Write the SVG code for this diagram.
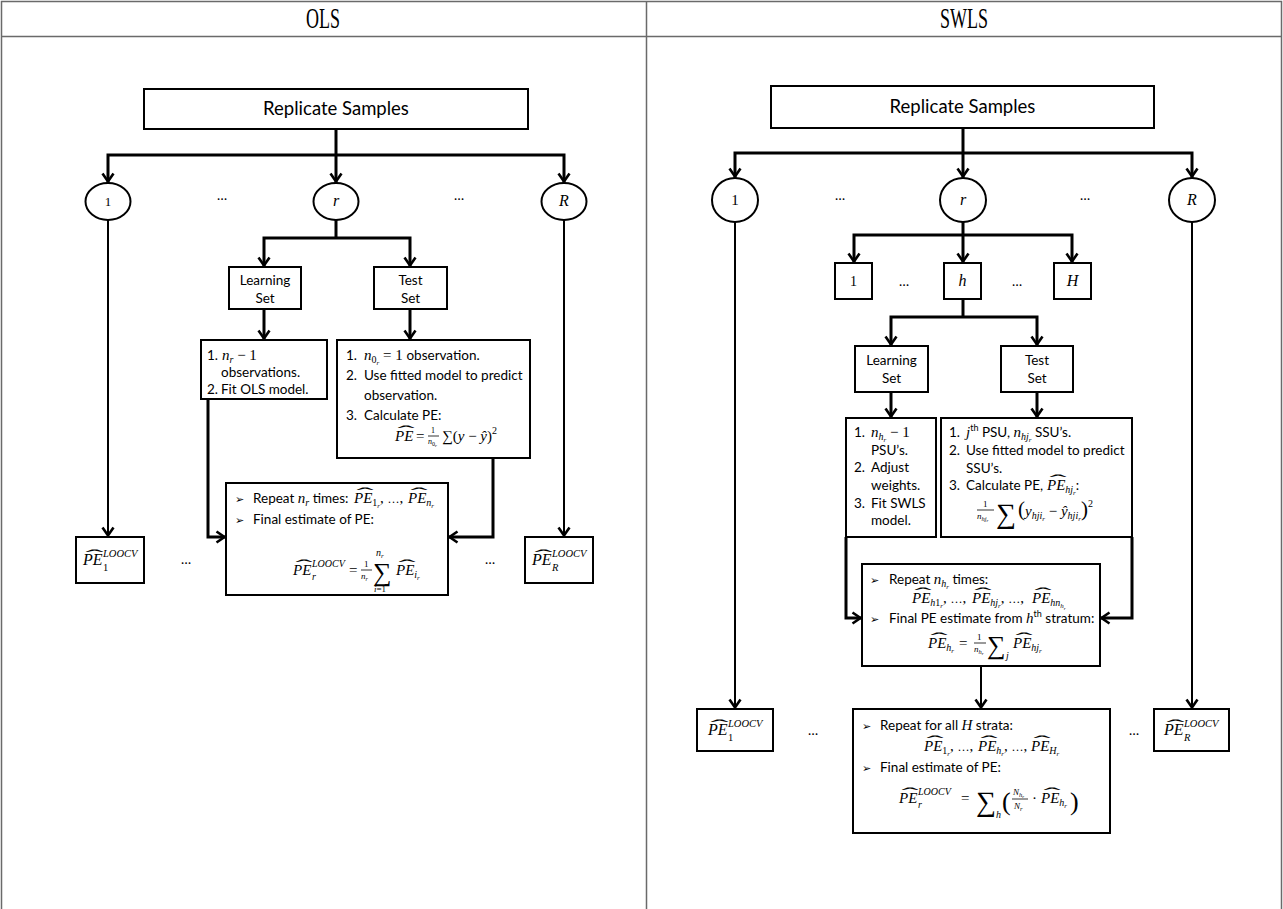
<svg xmlns="http://www.w3.org/2000/svg" width="1283" height="909" viewBox="0 0 1283 909">
<defs>
<marker id="arr" markerUnits="userSpaceOnUse" viewBox="-10 -7 13 14" refX="1.5" refY="0" markerWidth="13" markerHeight="14" orient="auto-start-reverse" overflow="visible">
<path d="M-8,-5.5 L0,0 L-8,5.5" fill="none" stroke="#000" stroke-width="2.6"/>
</marker>
</defs>
<style>
.grid{stroke:#6a6a6a;stroke-width:1.5;fill:none}
.box{fill:#fff;stroke:#000;stroke-width:2}
.conn{fill:none;stroke:#000;stroke-width:3}
.thin{stroke-width:2}
.frac{stroke:#000;stroke-width:0.8}
.hd{font-family:"Liberation Serif",serif;font-size:30px}
.lb{font-family:Lato,"Liberation Sans",sans-serif;font-size:18.5px}
.t{font-family:Lato,"Liberation Sans",sans-serif;font-size:13.5px}
.i{font-family:"Liberation Serif",serif;font-style:italic}
.u{font-family:"Liberation Serif",serif;font-style:normal}
.bl{font-family:"DejaVu Sans",sans-serif;font-size:11px}
.hat{font-family:"Liberation Serif",serif;font-size:16px}
.mid{text-anchor:middle}
</style>
<rect width="1283" height="909" fill="#fff"/>

<!-- table frame and column titles -->
<g id="table">
<path class="grid" d="M1.5,909 V1.5 H1281.5 V909 M1.5,36.5 H1281.5 M646.5,1.5 V909"/>
<text class="hd mid" x="323" y="28" textLength="34" lengthAdjust="spacingAndGlyphs">OLS</text>
<text class="hd mid" x="964" y="28" textLength="48" lengthAdjust="spacingAndGlyphs">SWLS</text>
</g>

<!-- ===================== OLS column ===================== -->
<g id="ols-connectors" class="conn">
<path d="M336,129 V183" marker-end="url(#arr)"/>
<path d="M108,183 V155 H564 V183" marker-start="url(#arr)" marker-end="url(#arr)"/>
<path d="M336,220 V238"/>
<path d="M264,267 V238 H410 V267" marker-start="url(#arr)" marker-end="url(#arr)"/>
<path d="M264,309 V340" marker-end="url(#arr)"/>
<path d="M410,309 V340" marker-end="url(#arr)"/>
<path d="M208,399 V537 H226" marker-end="url(#arr)"/>
<path d="M493,458 V537 H448" marker-end="url(#arr)"/>
<path class="thin" d="M108,220 V537" marker-end="url(#arr)"/>
<path class="thin" d="M564,220 V537" marker-end="url(#arr)"/>
</g>

<g id="ols-replicates">
<rect class="box" x="144" y="89" width="384" height="40"/>
<text class="lb mid" x="336" y="115">Replicate Samples</text>
</g>

<g id="ols-rep-1">
<ellipse class="box" cx="108" cy="201.5" rx="22.5" ry="18.5"/>
<text class="u mid" font-size="13" x="108" y="206">1</text>
</g>
<g id="ols-rep-r">
<ellipse class="box" cx="336" cy="201.5" rx="22.5" ry="18.5"/>
<text class="i mid" font-size="16" x="336" y="206">r</text>
</g>
<g id="ols-rep-R">
<ellipse class="box" cx="564" cy="201.5" rx="22.5" ry="18.5"/>
<text class="i mid" font-size="16" x="564" y="206">R</text>
</g>
<text class="t mid" x="222" y="200">…</text>
<text class="t mid" x="459" y="200">…</text>

<g id="ols-learning">
<rect class="box" x="229" y="267" width="72" height="42"/>
<text class="t mid" x="265" y="285">Learning</text>
<text class="t mid" x="265" y="303">Set</text>
</g>
<g id="ols-test">
<rect class="box" x="374" y="267" width="73" height="42"/>
<text class="t mid" x="410.5" y="285">Test</text>
<text class="t mid" x="410.5" y="303">Set</text>
</g>

<g id="ols-learning-steps">
<rect class="box" x="201" y="340" width="126" height="59"/>
<text class="t" x="207" y="360">1.</text>
<text class="t" y="360"><tspan x="222" class="i" font-size="15">n</tspan><tspan class="i" font-size="10" dy="3">r</tspan><tspan class="u" font-size="15" dy="-3"> − 1</tspan></text>
<text class="t" x="221" y="377">observations.</text>
<text class="t" x="207" y="394">2.</text>
<text class="t" x="221" y="394">Fit OLS model.</text>
</g>

<g id="ols-test-steps">
<rect class="box" x="337" y="340" width="193" height="118"/>
<text class="t" x="346" y="360">1.</text>
<text class="t" y="360"><tspan x="364" class="i" font-size="15">n</tspan><tspan class="u" font-size="10" dy="3">0</tspan><tspan class="i" font-size="7" dy="2">r</tspan><tspan class="u" font-size="15" dy="-5"> = 1 </tspan><tspan>observation.</tspan></text>
<text class="t" x="346" y="380">2.</text>
<text class="t" x="364" y="380">Use fitted model to predict</text>
<text class="t" x="364" y="400">observation.</text>
<text class="t" x="346" y="420">3.</text>
<text class="t" x="364" y="420">Calculate PE:</text>
<text class="i" font-size="15" x="395" y="441">PE</text>
<text class="hat" x="397.5" y="437" textLength="17" lengthAdjust="spacingAndGlyphs">ˆ</text>
<text class="u" font-size="15" x="416" y="441">=</text>
<text class="u" font-size="8" x="431" y="433">1</text>
<line class="frac" x1="428" y1="436" x2="439" y2="436"/>
<text class="t" y="444"><tspan x="428" class="i" font-size="8">n</tspan><tspan class="u" font-size="6" dy="1.5">0</tspan><tspan class="i" font-size="5" dy="1.5">r</tspan></text>
<text class="t" y="441"><tspan x="442" class="u" font-size="15">∑(</tspan><tspan class="i" font-size="15">y</tspan><tspan class="u" font-size="15"> − </tspan><tspan class="i" font-size="15">ŷ</tspan><tspan class="u" font-size="15">)</tspan><tspan class="u" font-size="10" dy="-7">2</tspan></text>
</g>

<g id="ols-pe-r">
<rect class="box" x="226" y="483" width="222" height="112"/>
<text class="bl" x="235" y="503">➢</text>
<text class="t" y="503"><tspan x="253">Repeat </tspan><tspan class="i" font-size="15">n</tspan><tspan class="i" font-size="10" dy="3">r</tspan><tspan dy="-3"> times:</tspan></text>
<text class="t" y="503"><tspan x="354" class="i" font-size="15">PE</tspan><tspan class="u" font-size="10" dy="3">1</tspan><tspan class="i" font-size="7" dy="2">r</tspan><tspan class="u" font-size="15" dy="-5">, </tspan><tspan class="u" font-size="12">…</tspan><tspan class="u" font-size="15">,</tspan></text>
<text class="hat" x="356.5" y="499" textLength="17" lengthAdjust="spacingAndGlyphs">ˆ</text>
<text class="t" y="503"><tspan x="408" class="i" font-size="15">PE</tspan><tspan class="i" font-size="10" dy="3">n</tspan><tspan class="i" font-size="7" dy="2">r</tspan></text>
<text class="hat" x="410.5" y="499" textLength="17" lengthAdjust="spacingAndGlyphs">ˆ</text>
<text class="bl" x="235" y="524">➢</text>
<text class="t" x="253" y="524">Final estimate of PE:</text>
<text class="i" font-size="15" x="293" y="575">PE</text>
<text class="hat" x="295.5" y="571" textLength="17" lengthAdjust="spacingAndGlyphs">ˆ</text>
<text class="i" font-size="10" x="312" y="567">LOOCV</text>
<text class="i" font-size="10" x="312" y="580">r</text>
<text class="u" font-size="15" x="349" y="575">=</text>
<text class="u" font-size="9" x="364" y="567">1</text>
<line class="frac" x1="361" y1="570" x2="372" y2="570"/>
<text class="t" y="579"><tspan x="361" class="i" font-size="9">n</tspan><tspan class="i" font-size="6" dy="1.5">r</tspan></text>
<text class="i" font-size="10" x="376" y="556"><tspan>n</tspan><tspan font-size="7" dy="1.5">r</tspan></text>
<text class="u" font-size="26" x="373" y="581">∑</text>
<text class="t" y="592"><tspan x="374" class="i" font-size="9">i</tspan><tspan class="u" font-size="9">=1</tspan></text>
<text class="t" y="575"><tspan x="396" class="i" font-size="15">PE</tspan><tspan class="i" font-size="10" dy="3">i</tspan><tspan class="i" font-size="7" dy="2">r</tspan></text>
<text class="hat" x="398.5" y="571" textLength="17" lengthAdjust="spacingAndGlyphs">ˆ</text>
</g>

<g id="ols-pe-1">
<rect class="box" x="76" y="537" width="68" height="46"/>
<text class="i" font-size="16" x="83" y="565">PE</text>
<text class="hat" x="85.5" y="561" textLength="18" lengthAdjust="spacingAndGlyphs">ˆ</text>
<text class="i" font-size="10.5" x="103" y="557">LOOCV</text>
<text class="u" font-size="10.5" x="103" y="571">1</text>
</g>
<g id="ols-pe-R">
<rect class="box" x="525" y="537" width="68" height="46"/>
<text class="i" font-size="16" x="532" y="565">PE</text>
<text class="hat" x="534.5" y="561" textLength="18" lengthAdjust="spacingAndGlyphs">ˆ</text>
<text class="i" font-size="10.5" x="552" y="557">LOOCV</text>
<text class="i" font-size="10.5" x="552" y="571">R</text>
</g>
<text class="t mid" x="186" y="564">…</text>
<text class="t mid" x="490" y="564">…</text>

<!-- ===================== SWLS column ===================== -->
<g id="swls-connectors" class="conn">
<path d="M963,128 V178" marker-end="url(#arr)"/>
<path d="M735,178 V153 H1192 V178" marker-start="url(#arr)" marker-end="url(#arr)"/>
<path d="M963,222 V263" marker-end="url(#arr)"/>
<path d="M854,263 V235 H1072 V263" marker-start="url(#arr)" marker-end="url(#arr)"/>
<path d="M963,299 V317"/>
<path d="M891,346 V317 H1037 V346" marker-start="url(#arr)" marker-end="url(#arr)"/>
<path d="M891,392 V418" marker-end="url(#arr)"/>
<path d="M1037,392 V418" marker-end="url(#arr)"/>
<path d="M846,537 V618 H862" marker-end="url(#arr)"/>
<path d="M1132,537 V618 H1100" marker-end="url(#arr)"/>
<path class="thin" d="M981,666 V709" marker-end="url(#arr)"/>
<path class="thin" d="M735,222 V709" marker-end="url(#arr)"/>
<path class="thin" d="M1192,222 V709" marker-end="url(#arr)"/>
</g>

<g id="swls-replicates">
<rect class="box" x="771" y="86" width="383" height="42"/>
<text class="lb mid" x="962.5" y="113">Replicate Samples</text>
</g>

<g id="swls-rep-1">
<ellipse class="box" cx="735" cy="200" rx="23" ry="22"/>
<text class="u mid" font-size="15" x="735" y="205">1</text>
</g>
<g id="swls-rep-r">
<ellipse class="box" cx="963" cy="200" rx="23" ry="22"/>
<text class="i mid" font-size="16" x="963" y="205">r</text>
</g>
<g id="swls-rep-R">
<ellipse class="box" cx="1192" cy="200" rx="23" ry="22"/>
<text class="i mid" font-size="16" x="1192" y="205">R</text>
</g>
<text class="t mid" x="840" y="200">…</text>
<text class="t mid" x="1085" y="200">…</text>

<g id="swls-stratum-1">
<rect class="box" x="835" y="263" width="37" height="36"/>
<text class="u mid" font-size="14" x="853.5" y="286">1</text>
</g>
<g id="swls-stratum-h">
<rect class="box" x="944" y="263" width="37" height="36"/>
<text class="i mid" font-size="16" x="962.5" y="286">h</text>
</g>
<g id="swls-stratum-H">
<rect class="box" x="1054" y="263" width="37" height="36"/>
<text class="i mid" font-size="16" x="1072.5" y="286">H</text>
</g>
<text class="t mid" x="904" y="286">…</text>
<text class="t mid" x="1017" y="286">…</text>

<g id="swls-learning">
<rect class="box" x="855" y="346" width="73" height="46"/>
<text class="t mid" x="891.5" y="365">Learning</text>
<text class="t mid" x="891.5" y="383">Set</text>
</g>
<g id="swls-test">
<rect class="box" x="1001" y="346" width="72" height="46"/>
<text class="t mid" x="1037" y="365">Test</text>
<text class="t mid" x="1037" y="383">Set</text>
</g>

<g id="swls-learning-steps">
<rect class="box" x="846" y="418" width="90" height="119"/>
<text class="t" x="854" y="437">1.</text>
<text class="t" y="437"><tspan x="871" class="i" font-size="15">n</tspan><tspan class="i" font-size="10" dy="3">h</tspan><tspan class="i" font-size="7" dy="2">r</tspan><tspan class="u" font-size="15" dy="-5"> − 1</tspan></text>
<text class="t" x="871" y="455">PSU’s.</text>
<text class="t" x="854" y="472">2.</text>
<text class="t" x="871" y="472">Adjust</text>
<text class="t" x="871" y="490">weights.</text>
<text class="t" x="854" y="508">3.</text>
<text class="t" x="871" y="508">Fit SWLS</text>
<text class="t" x="871" y="525">model.</text>
</g>

<g id="swls-test-steps">
<rect class="box" x="941" y="418" width="191" height="119"/>
<text class="t" x="949" y="437">1.</text>
<text class="t" y="437"><tspan x="966" class="i" font-size="15">j</tspan><tspan font-size="9" dy="-6">th</tspan><tspan dy="6"> PSU, </tspan><tspan class="i" font-size="15">n</tspan><tspan class="i" font-size="10" dy="3">hj</tspan><tspan class="i" font-size="7" dy="2">r</tspan><tspan dy="-5"> SSU’s.</tspan></text>
<text class="t" x="949" y="455">2.</text>
<text class="t" x="966" y="455">Use fitted model to predict</text>
<text class="t" x="966" y="473">SSU’s.</text>
<text class="t" x="949" y="490">3.</text>
<text class="t" y="490"><tspan x="966">Calculate PE, </tspan><tspan x="1047" class="i" font-size="15">PE</tspan><tspan class="i" font-size="10" dy="3">hj</tspan><tspan class="i" font-size="7" dy="2">r</tspan><tspan dy="-5">:</tspan></text>
<text class="hat" x="1049.5" y="486" textLength="17" lengthAdjust="spacingAndGlyphs">ˆ</text>
<text class="u" font-size="9" x="983" y="507">1</text>
<line class="frac" x1="977" y1="510" x2="994" y2="510"/>
<text class="t" y="519"><tspan x="977" class="i" font-size="9">n</tspan><tspan class="i" font-size="6.5" dy="1.5">hj</tspan><tspan class="i" font-size="5" dy="1.5">r</tspan></text>
<text class="u" font-size="28" x="996" y="523">∑</text>
<text class="t" y="516"><tspan x="1018" class="u" font-size="21">(</tspan><tspan class="i" font-size="15">y</tspan><tspan class="i" font-size="10" dy="3">hji</tspan><tspan class="i" font-size="7" dy="2">r</tspan><tspan class="u" font-size="15" dy="-5"> − </tspan><tspan class="i" font-size="15">ŷ</tspan><tspan class="i" font-size="10" dy="3">hji</tspan><tspan class="i" font-size="7" dy="2">r</tspan><tspan class="u" font-size="21" dy="-5">)</tspan><tspan class="u" font-size="10" dy="-9">2</tspan></text>
</g>

<g id="swls-stratum-pe">
<rect class="box" x="862" y="564" width="238" height="102"/>
<text class="bl" x="870" y="584">➢</text>
<text class="t" y="584"><tspan x="889">Repeat </tspan><tspan class="i" font-size="15">n</tspan><tspan class="i" font-size="10" dy="3">h</tspan><tspan class="i" font-size="7" dy="2">r</tspan><tspan dy="-5"> times:</tspan></text>
<text class="t" y="603"><tspan x="912" class="i" font-size="15">PE</tspan><tspan class="i" font-size="10" dy="3">h</tspan><tspan class="u" font-size="10">1</tspan><tspan class="i" font-size="7" dy="2">r</tspan><tspan class="u" font-size="15" dy="-5">, </tspan><tspan class="u" font-size="12">…</tspan><tspan class="u" font-size="15">,</tspan></text>
<text class="hat" x="914.5" y="599" textLength="17" lengthAdjust="spacingAndGlyphs">ˆ</text>
<text class="t" y="603"><tspan x="972" class="i" font-size="15">PE</tspan><tspan class="i" font-size="10" dy="3">hj</tspan><tspan class="i" font-size="7" dy="2">r</tspan><tspan class="u" font-size="15" dy="-5">, </tspan><tspan class="u" font-size="12">…</tspan><tspan class="u" font-size="15">,</tspan></text>
<text class="hat" x="974.5" y="599" textLength="17" lengthAdjust="spacingAndGlyphs">ˆ</text>
<text class="t" y="603"><tspan x="1032" class="i" font-size="15">PE</tspan><tspan class="i" font-size="10" dy="3">hn</tspan><tspan class="i" font-size="7" dy="2">h</tspan><tspan class="i" font-size="5" dy="1.5">r</tspan></text>
<text class="hat" x="1034.5" y="599" textLength="17" lengthAdjust="spacingAndGlyphs">ˆ</text>
<text class="bl" x="870" y="623">➢</text>
<text class="t" y="623"><tspan x="889">Final PE estimate from </tspan><tspan class="i" font-size="15">h</tspan><tspan font-size="9" dy="-6">th</tspan><tspan dy="6"> stratum:</tspan></text>
<text class="t" y="648"><tspan x="928" class="i" font-size="15">PE</tspan><tspan class="i" font-size="10" dy="3">h</tspan><tspan class="i" font-size="7" dy="2">r</tspan></text>
<text class="hat" x="930.5" y="644" textLength="17" lengthAdjust="spacingAndGlyphs">ˆ</text>
<text class="u" font-size="15" x="959" y="648">=</text>
<text class="u" font-size="9" x="977" y="640">1</text>
<line class="frac" x1="974" y1="643" x2="986" y2="643"/>
<text class="t" y="652"><tspan x="974" class="i" font-size="9">n</tspan><tspan class="i" font-size="6.5" dy="1.5">h</tspan><tspan class="i" font-size="5" dy="1.5">r</tspan></text>
<text class="u" font-size="26" x="987" y="654">∑</text>
<text class="i" font-size="10" x="1006" y="659">j</text>
<text class="t" y="648"><tspan x="1013" class="i" font-size="15">PE</tspan><tspan class="i" font-size="10" dy="3">hj</tspan><tspan class="i" font-size="7" dy="2">r</tspan></text>
<text class="hat" x="1015.5" y="644" textLength="17" lengthAdjust="spacingAndGlyphs">ˆ</text>
</g>

<g id="swls-pe-r">
<rect class="box" x="853" y="709" width="257" height="124"/>
<text class="bl" x="862" y="730">➢</text>
<text class="t" y="730"><tspan x="880">Repeat for all </tspan><tspan class="i" font-size="15">H</tspan><tspan> strata:</tspan></text>
<text class="t" y="751"><tspan x="924" class="i" font-size="15">PE</tspan><tspan class="u" font-size="10" dy="3">1</tspan><tspan class="i" font-size="7" dy="2">r</tspan><tspan class="u" font-size="15" dy="-5">, </tspan><tspan class="u" font-size="12">…</tspan><tspan class="u" font-size="15">,</tspan></text>
<text class="hat" x="926.5" y="747" textLength="17" lengthAdjust="spacingAndGlyphs">ˆ</text>
<text class="t" y="751"><tspan x="978" class="i" font-size="15">PE</tspan><tspan class="i" font-size="10" dy="3">h</tspan><tspan class="i" font-size="7" dy="2">r</tspan><tspan class="u" font-size="15" dy="-5">, </tspan><tspan class="u" font-size="12">…</tspan><tspan class="u" font-size="15">,</tspan></text>
<text class="hat" x="980.5" y="747" textLength="17" lengthAdjust="spacingAndGlyphs">ˆ</text>
<text class="t" y="751"><tspan x="1031" class="i" font-size="15">PE</tspan><tspan class="i" font-size="10" dy="3">H</tspan><tspan class="i" font-size="7" dy="2">r</tspan></text>
<text class="hat" x="1033.5" y="747" textLength="17" lengthAdjust="spacingAndGlyphs">ˆ</text>
<text class="bl" x="862" y="772">➢</text>
<text class="t" x="880" y="772">Final estimate of PE:</text>
<text class="i" font-size="15" x="899" y="803">PE</text>
<text class="hat" x="901.5" y="799" textLength="17" lengthAdjust="spacingAndGlyphs">ˆ</text>
<text class="i" font-size="10" x="918" y="795">LOOCV</text>
<text class="i" font-size="10" x="918" y="808">r</text>
<text class="u" font-size="15" x="961" y="803">=</text>
<text class="u" font-size="28" x="976" y="811">∑</text>
<text class="i" font-size="10" x="996" y="818">h</text>
<text class="u" font-size="26" x="1002" y="810">(</text>
<text class="t" y="795"><tspan x="1013" class="i" font-size="9">N</tspan><tspan class="i" font-size="6.5" dy="1.5">h</tspan><tspan class="i" font-size="5" dy="1.5">r</tspan></text>
<line class="frac" x1="1012" y1="799" x2="1028" y2="799"/>
<text class="t" y="809"><tspan x="1014" class="i" font-size="9">N</tspan><tspan class="i" font-size="6.5" dy="1.5">r</tspan></text>
<text class="u" font-size="15" x="1032" y="803">·</text>
<text class="t" y="803"><tspan x="1041" class="i" font-size="15">PE</tspan><tspan class="i" font-size="10" dy="3">h</tspan><tspan class="i" font-size="7" dy="2">r</tspan></text>
<text class="hat" x="1043.5" y="799" textLength="17" lengthAdjust="spacingAndGlyphs">ˆ</text>
<text class="u" font-size="26" x="1070" y="810">)</text>
</g>

<g id="swls-pe-1">
<rect class="box" x="697" y="709" width="76" height="42"/>
<text class="i" font-size="16" x="708" y="735">PE</text>
<text class="hat" x="710.5" y="731" textLength="18" lengthAdjust="spacingAndGlyphs">ˆ</text>
<text class="i" font-size="10.5" x="728" y="727">LOOCV</text>
<text class="u" font-size="10.5" x="728" y="741">1</text>
</g>
<g id="swls-pe-R">
<rect class="box" x="1154" y="709" width="75" height="42"/>
<text class="i" font-size="16" x="1164" y="735">PE</text>
<text class="hat" x="1166.5" y="731" textLength="18" lengthAdjust="spacingAndGlyphs">ˆ</text>
<text class="i" font-size="10.5" x="1184" y="727">LOOCV</text>
<text class="i" font-size="10.5" x="1184" y="741">R</text>
</g>
<text class="t mid" x="813" y="735">…</text>
<text class="t mid" x="1134" y="735">…</text>
</svg>
